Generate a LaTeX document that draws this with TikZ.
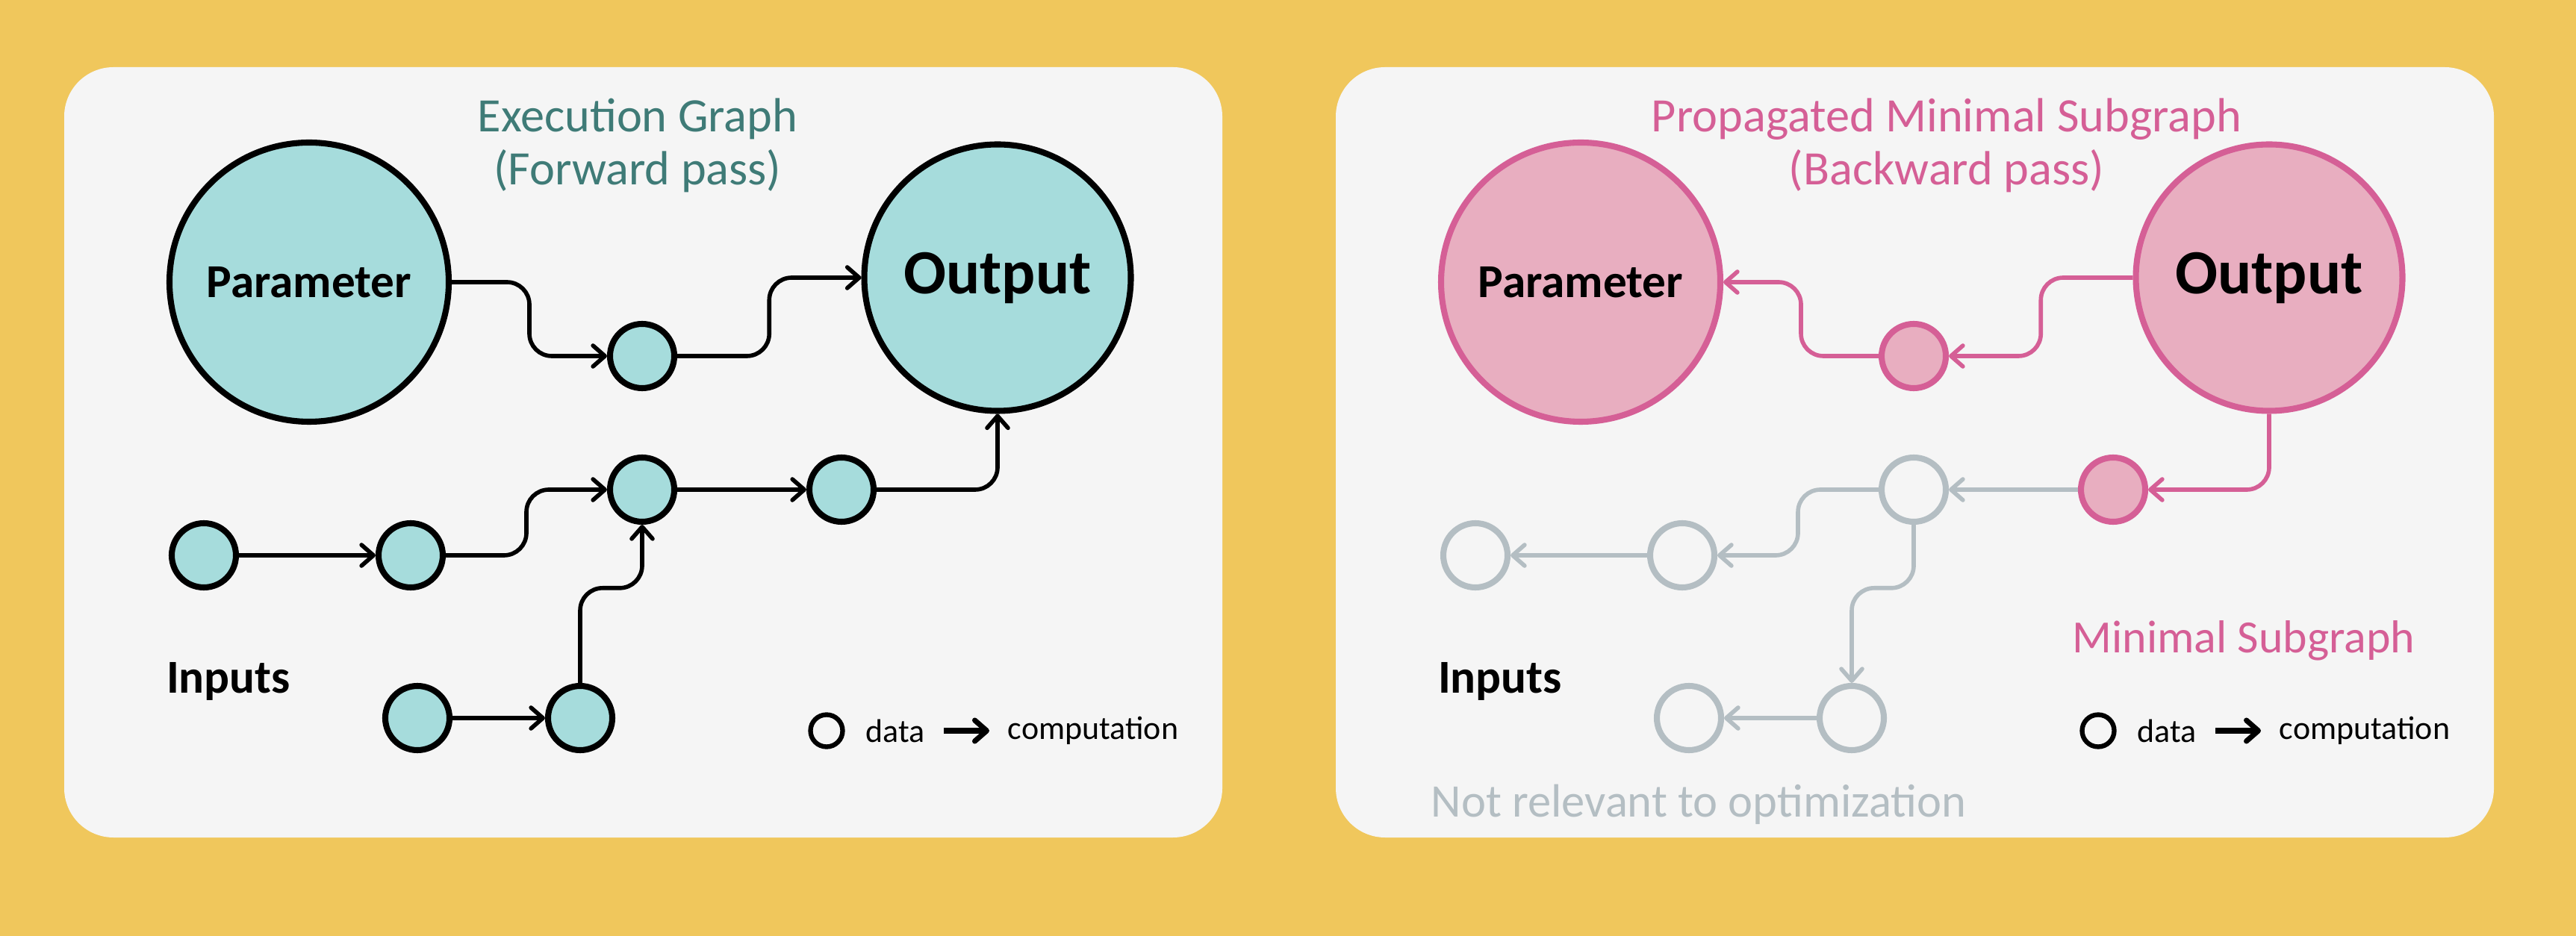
\documentclass[tikz,border=0pt]{standalone}
\usepackage{fontspec}
\setmainfont{Carlito}
\usepackage{tikz}
\usetikzlibrary{arrows.meta, positioning, calc}
\usepackage{xcolor}
\definecolor{Sunflower}{HTML}{F0C75C}
\definecolor{PanelGray}{HTML}{F5F5F5}
\definecolor{Teal}{HTML}{A6DCDC}
\definecolor{TealText}{HTML}{3F7B77}
\definecolor{Rose}{HTML}{E8AEC0}
\definecolor{RoseLine}{HTML}{D55F96}
\definecolor{Mist}{HTML}{B4BEC3}

\tikzset{
  datanode/.style={circle, line width=2.3pt, minimum size=0.86cm, inner sep=0pt},
  bignode/.style={datanode, minimum size=3.74cm, font=\fontsize{18}{20}\selectfont\bfseries},
  outnode/.style={datanode, minimum size=3.57cm, font=\fontsize{24}{27}\selectfont\bfseries},
  flow/.style={line width=1.6pt, rounded corners=0.3cm,
    -{Straight Barb[length=1.6mm, width=2.8mm, round]}},
  hstep/.style={to path={let \p1=(\tikztostart), \p2=(\tikztotarget) in
    -- ({0.5*(\x1+\x2)},\y1) -- ({0.5*(\x1+\x2)},\y2) -- (\p2)}},
  vstep/.style={to path={let \p1=(\tikztostart), \p2=(\tikztotarget) in
    -- (\x1,{\y1+#1*(\y2-\y1)}) -- (\x2,{\y1+#1*(\y2-\y1)}) -- (\p2)}},
  vstep/.default=0.5,
  titletext/.style={align=center, font=\fontsize{18.3}{20.2}\selectfont},
  keytext/.style={font=\fontsize{12.5}{14}\selectfont},
}

\begin{document}
\begin{tikzpicture}
  \fill[Sunflower] (0,0) rectangle (34.5,-12.54);

  % shared panel parts
  \foreach \s/\x in {F/0, B/17.03}{
    \fill[PanelGray, rounded corners=0.66cm] (0.86+\x,-0.90) rectangle ++(15.51,-10.32);
    \node[font=\fontsize{18}{20}\selectfont\bfseries] (inputs\s) at (3.06+\x,-9.13) {Inputs};
    \node[circle, draw, line width=1.8pt, minimum width=0.43cm, inner sep=0pt] (keyDot\s) at (11.07+\x,-9.79) {};
    \node[keytext] (keyData\s) at (11.99+\x,-9.79) {data};
    \node[keytext] (keyComp\s) at (14.64+\x,-9.79) {computation};
    \coordinate (keyTail\s) at (12.64+\x,-9.79);
    \coordinate (keyHead\s) at (13.25+\x,-9.79);
    \draw[flow, line width=2pt] (keyTail\s) -- (keyHead\s);
  }

  % forward pass
  \node[titletext, text=TealText] (titleF) at (8.54,-1.95) {Execution Graph\\(Forward pass)};
  \node[bignode, draw, fill=Teal] (paramF) at (4.14,-3.78) {Parameter};
  \node[outnode, draw, fill=Teal] (outF) at (13.36,-3.72) {Output};
  \node[datanode, draw, fill=Teal] (viaF) at (8.60,-4.77) {};
  \node[datanode, draw, fill=Teal] (joinF) at (8.60,-6.56) {};
  \node[datanode, draw, fill=Teal] (preF) at (11.27,-6.56) {};
  \node[datanode, draw, fill=Teal] (inAF) at (2.73,-7.44) {};
  \node[datanode, draw, fill=Teal] (inBF) at (5.50,-7.44) {};
  \node[datanode, draw, fill=Teal] (inCF) at (5.59,-9.62) {};
  \node[datanode, draw, fill=Teal] (inDF) at (7.77,-9.62) {};

  \draw[flow] (paramF.east) to[hstep] (viaF.west);
  \draw[flow] (viaF.east) to[hstep] (outF.west);
  \draw[flow] (inAF) -- (inBF);
  \draw[flow] (inBF.east) to[hstep] (joinF.west);
  \draw[flow] (joinF) -- (preF);
  \draw[flow] (preF.east) -| (outF.south);
  \draw[flow] (inCF) -- (inDF);
  \draw[flow] (inDF.north) to[vstep=0.6] (joinF.south);

  % backward pass
  \node[titletext, text=RoseLine] (titleB) at (26.07,-1.95) {Propagated Minimal Subgraph\\(Backward pass)};
  \node[bignode, draw=RoseLine, fill=Rose] (paramB) at (21.17,-3.78) {Parameter};
  \node[outnode, draw=RoseLine, fill=Rose] (outB) at (30.39,-3.72) {Output};
  \node[datanode, draw=RoseLine, fill=Rose] (viaB) at (25.63,-4.77) {};
  \node[datanode, draw=Mist] (joinB) at (25.63,-6.56) {};
  \node[datanode, draw=RoseLine, fill=Rose] (preB) at (28.30,-6.56) {};
  \node[datanode, draw=Mist] (inAB) at (19.76,-7.44) {};
  \node[datanode, draw=Mist] (inBB) at (22.53,-7.44) {};
  \node[datanode, draw=Mist] (inCB) at (22.62,-9.62) {};
  \node[datanode, draw=Mist] (inDB) at (24.80,-9.62) {};
  \node[titletext, font=\fontsize{17.6}{20}\selectfont, text=RoseLine] (minimalB) at (30.05,-8.58) {Minimal Subgraph};
  \node[font=\fontsize{17.8}{20}\selectfont, text=Mist] (skipB) at (22.75,-10.78) {Not relevant to optimization};

  \draw[flow, RoseLine] (outB.west) to[hstep] (viaB.east);
  \draw[flow, RoseLine] (viaB.west) to[hstep] (paramB.east);
  \draw[flow, RoseLine] (outB.south) |- (preB.east);
  \draw[flow, Mist] (preB) -- (joinB);
  \draw[flow, Mist] (joinB.west) to[hstep] (inBB.east);
  \draw[flow, Mist] (inBB) -- (inAB);
  \draw[flow, Mist] (joinB.south) to[vstep=0.4] (inDB.north);
  \draw[flow, Mist] (inDB) -- (inCB);
\end{tikzpicture}
\end{document}
